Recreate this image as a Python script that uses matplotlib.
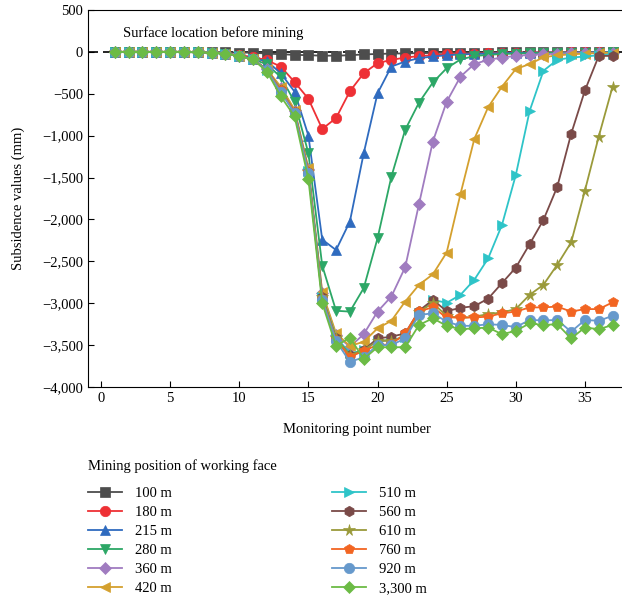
import matplotlib
matplotlib.use("Agg")
import matplotlib.pyplot as plt
from matplotlib.ticker import FuncFormatter, MultipleLocator

plt.rcParams["font.family"] = ["Liberation Serif", "DejaVu Serif"]

points = list(range(1, 38))

labels = ["100 m", "180 m", "215 m", "280 m", "360 m", "420 m",
          "510 m", "560 m", "610 m", "760 m", "920 m", "3,300 m"]

s100 = [0, 0, 0, 0, 0, 0, 0, 0, -5, -8, -10, -20, -28, -35, -40, -45, -45, -40, -30,
        -25, -20, -18, -15, -12, -10, -10, -8, -8, -5, -5, -5, -5, -5, -3, -3, -3, -3]
s180 = [0, 0, 0, 0, 0, 0, -5, -10, -20, -40, -60, -100, -175, -360, -560, -920, -790,
        -470, -255, -135, -95, -68, -50, -40, -30, -25, -20, -15, -12, -10, -10, -8, -8,
        -5, -5, -5, -5]
s215 = [0, 0, 0, 0, 0, 0, -5, -10, -20, -45, -80, -110, -255, -475, -1000, -2240, -2365,
        -2025, -1210, -495, -175, -115, -75, -55, -40, -30, -25, -20, -15, -12, -10, -10,
        -8, -8, -5, -5, -5]
s280 = [0, 0, 0, 0, 0, 0, -5, -10, -20, -50, -85, -150, -300, -595, -1210, -2550, -3090,
        -3100, -2820, -2225, -1490, -930, -605, -365, -195, -90, -50, -35, -25, -20, -15,
        -12, -10, -10, -8, -8, -5]
s360 = [0, 0, 0, 0, 0, 0, -5, -10, -20, -50, -90, -210, -430, -700, -1400, -2880, -3380,
        -3520, -3370, -3100, -2920, -2570, -1815, -1070, -595, -295, -145, -95, -68, -48,
        -35, -28, -20, -15, -12, -10, -8]
s420 = [0, 0, 0, 0, 0, 0, -5, -10, -20, -50, -90, -210, -415, -690, -1390, -2870, -3360,
        -3510, -3460, -3300, -3210, -2980, -2780, -2655, -2395, -1695, -1040, -660, -415,
        -205, -145, -65, -40, -30, -20, -15, -10]
s510 = [0, 0, 0, 0, 0, 0, -5, -10, -20, -50, -90, -215, -450, -720, -1420, -2920, -3400,
        -3600, -3560, -3450, -3440, -3400, -3120, -2960, -2995, -2900, -2720, -2465, -2065,
        -1470, -705, -225, -95, -68, -55, -40, -30]
s560 = [0, 0, 0, 0, 0, 0, -5, -10, -20, -50, -90, -215, -460, -720, -1430, -2930, -3420,
        -3620, -3560, -3420, -3400, -3360, -3090, -2960, -3095, -3055, -3035, -2945, -2760,
        -2575, -2295, -2005, -1610, -980, -460, -48, -48]
s610 = [0, 0, 0, 0, 0, 0, -5, -10, -20, -50, -90, -215, -460, -720, -1430, -2930, -3420,
        -3620, -3560, -3450, -3450, -3400, -3100, -3000, -3150, -3180, -3160, -3130, -3110,
        -3070, -2900, -2780, -2540, -2275, -1655, -1010, -415]
s760 = [0, 0, 0, 0, 0, 0, -5, -10, -20, -50, -90, -215, -460, -720, -1430, -2950, -3440,
        -3645, -3565, -3500, -3490, -3360, -3095, -3050, -3170, -3170, -3170, -3160, -3120,
        -3100, -3050, -3050, -3040, -3100, -3070, -3070, -2990]
s920 = [0, 0, 0, 0, 0, 0, -5, -10, -20, -50, -90, -220, -480, -730, -1450, -2960, -3450,
        -3700, -3645, -3500, -3500, -3420, -3140, -3120, -3220, -3270, -3270, -3250, -3260,
        -3285, -3200, -3205, -3200, -3340, -3200, -3210, -3150]
s3300 = [0, 0, 0, 0, 0, 0, -5, -10, -20, -50, -90, -235, -530, -770, -1520, -3000, -3510,
         -3410, -3665, -3525, -3525, -3525, -3260, -3180, -3270, -3310, -3300, -3290, -3370,
         -3330, -3240, -3260, -3250, -3420, -3290, -3310, -3260]

series = [s100, s180, s215, s280, s360, s420, s510, s560, s610, s760, s920, s3300]
couleurs = ["#4d4d4d", "#ee3035", "#2f6bbf", "#2ca766", "#a07cc0", "#d4a02e",
            "#2ec4c8", "#7a4a48", "#9a9a3a", "#f26522", "#6699cc", "#6cbb45"]
marqueurs = ["s", "o", "^", "v", "D", "<", ">", "h", "*", "p", "o", "D"]
tailles = [7, 7.5, 7.5, 7.5, 6, 7.5, 7.5, 7.5, 8.5, 7.5, 7.5, 6]

fig = plt.figure(figsize=(6.22, 5.98), dpi=100)
W, H = 622, 598
ax = fig.add_axes([88 / W, (H - 387) / H, (626 - 88) / W, 377 / H])

ax.axhline(0, color="black", lw=1.2, ls=(0, (6, 3)), zorder=1.5)

for s, c, m, t, lab in zip(series, couleurs, marqueurs, tailles, labels):
	ax.plot(points, s, color=c, marker=m, markersize=t, lw=1.3, label=lab,
	        markeredgewidth=0.5, markeredgecolor=c)

ax.text(1.6, 230, "Surface location before mining", fontsize=10.5, va="center", ha="left")

ax.set_xlim(-0.94, 37.97)
ax.set_ylim(-4000, 500)
ax.xaxis.set_major_locator(MultipleLocator(5))
ax.yaxis.set_major_locator(MultipleLocator(500))
ax.yaxis.set_major_formatter(FuncFormatter(lambda v, p: f"{v:,.0f}".replace("-", "\u2212")))
ax.tick_params(direction="in", labelsize=10.5, length=4)
ax.spines["right"].set_visible(False)

ax.set_xlabel("Monitoring point number", fontsize=10.5, labelpad=13)
ax.set_ylabel("Subsidence values (mm)", fontsize=10.5, labelpad=12)

leg = fig.legend(loc="upper left", bbox_to_anchor=(75 / W, 1 - 446 / H), ncol=2,
                 frameon=False, fontsize=10.5, title="Mining position of working face",
                 title_fontsize=10.5, alignment="left", handlelength=2.3,
                 handletextpad=0.9, labelspacing=0.40, columnspacing=11.0)
leg._legend_box.sep = 10

fig.savefig("out.png", dpi=100)
